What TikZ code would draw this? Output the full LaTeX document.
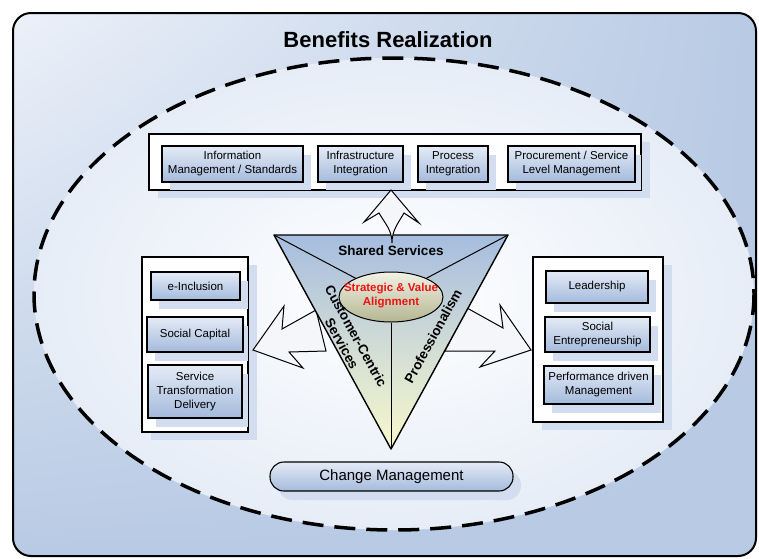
\documentclass[tikz,border=0pt]{standalone}
\usepackage{fontspec}
\setmainfont{Liberation Sans}
\usetikzlibrary{shadows,shapes.geometric,shadings}
\definecolor{bgLight}{RGB}{236,241,249}
\definecolor{bgBlue}{RGB}{184,202,228}
\definecolor{ellC}{RGB}{230,237,247}
\definecolor{boxTop}{RGB}{228,235,246}
\definecolor{boxBot}{RGB}{164,186,220}
\definecolor{shadowC}{RGB}{210,222,239}
\definecolor{triTop}{RGB}{166,189,223}
\definecolor{triBot}{RGB}{249,249,204}
\definecolor{svaTop}{RGB}{242,242,230}
\definecolor{svaBot}{RGB}{180,182,145}
\definecolor{arrowC}{RGB}{244,246,250}
\definecolor{svaRed}{RGB}{235,20,20}
\begin{document}
\begin{tikzpicture}[x=1pt,y=-1pt,
  ibox/.style={draw=black, line width=1.1pt, top color=boxTop, bottom color=boxBot,
    align=center, inner sep=0pt, font=\fontsize{11.5}{14}\selectfont,
    drop shadow={shadow xshift=8pt, shadow yshift=-9pt, fill=shadowC, opacity=1}},
  obox/.style={draw=black, line width=1.1pt, fill=white, inner sep=0pt,
    drop shadow={shadow xshift=9pt, shadow yshift=-8pt, fill=shadowC, opacity=1}},
  oborder/.style={draw=black, line width=1.1pt},
  barrow/.style={draw=black, line width=1pt, fill=arrowC, line join=miter},
  triText/.style={font=\bfseries\fontsize{13.5}{16}\selectfont, align=center, inner sep=0pt}
]
\path[use as bounding box] (0,0) rectangle (759,558);
% outer frame
\shadedraw[line width=2pt, rounded corners=18pt, upper left=bgLight, upper right=bgBlue,
  lower left=bgBlue, lower right=bgBlue] (13,13) rectangle (756,556);
\node[font=\bfseries\fontsize{22}{26}\selectfont, inner sep=0pt] (title) at (388,40) {Benefits Realization};
% dashed ellipse
\shadedraw[line width=3.5pt, dash pattern=on 21pt off 11pt, inner color=white, outer color=ellC]
  (394,294) ellipse [x radius=360, y radius=236];

% top group
\node[obox, minimum width=492pt, minimum height=56pt] (topbox) at (395,162) {};
\node[ibox, minimum width=141pt, minimum height=36pt] (im) at (232.5,164) {Information\\Management / Standards};
\node[ibox, minimum width=85pt, minimum height=36pt] (ii) at (360.5,164) {Infrastructure\\Integration};
\node[ibox, minimum width=70pt, minimum height=36pt] (pi) at (453,164) {Process\\Integration};
\node[ibox, minimum width=127pt, minimum height=36pt] (ps) at (571.5,164) {Procurement / Service\\Level Management};
\draw[oborder] (topbox.south west) rectangle (topbox.north east);

% left group
\node[obox, minimum width=106pt, minimum height=175pt] (leftbox) at (195,344.5) {};
\node[ibox, minimum width=89pt, minimum height=28pt] (ei) at (195.5,286) {e-Inclusion};
\node[ibox, minimum width=96pt, minimum height=35pt] (sc) at (195,334.5) {Social Capital};
\node[ibox, minimum width=94pt, minimum height=53pt] (std) at (195,391.5) {Service\\Transformation\\Delivery};
\draw[oborder] (leftbox.south west) rectangle (leftbox.north east);

% right group
\node[obox, minimum width=130pt, minimum height=165pt] (rightbox) at (598,339.5) {};
\node[ibox, minimum width=102pt, minimum height=32pt] (ld) at (597,287) {Leadership};
\node[ibox, minimum width=105pt, minimum height=35pt] (se) at (597.5,334.5) {Social\\Entrepreneurship};
\node[ibox, minimum width=109pt, minimum height=38pt] (pd) at (598.5,385) {Performance driven\\Management};
\draw[oborder] (rightbox.south west) rectangle (rightbox.north east);

% change management
\node[ibox, minimum width=243pt, minimum height=29pt, rounded corners=14pt,
  font=\fontsize{15}{18}\selectfont] (cm) at (391.5,476.5) {Change Management};

% side arrows
\draw[barrow] (253,350) -- (284,306) -- (282,329) -- (316,310) -- (326,351) -- (289,352) -- (303,368) -- cycle;
\draw[barrow] (531,350) -- (500,305) -- (503,328) -- (467,308) -- (445,351) -- (495,351) -- (480,367) -- cycle;

% triangle
\coordinate (tl) at (274,235);
\coordinate (tr) at (508,235);
\coordinate (tb) at (391,449);
\shadedraw[line width=1.4pt, top color=triTop, bottom color=triBot, line join=round] (tl) -- (tr) -- (tb) -- cycle;
\node[ellipse, draw=black, line width=1pt, top color=svaTop, bottom color=svaBot,
  minimum width=104pt, minimum height=50pt, inner sep=0pt] (sva) at (391,297) {};
\node[text=svaRed, font=\bfseries\fontsize{11.5}{14}\selectfont, align=center, inner sep=0pt]
  (svat) at (391,296) {Strategic \& Value\\Alignment};
\draw[line width=1pt] (tl) -- (sva);
\draw[line width=1pt] (tr) -- (sva);
\draw[line width=1pt] (sva.south) -- (tb);

% up arrow
\draw[barrow] (391,190) -- (364,222) -- (379,213) to[out=-60,in=90] (392,243) to[out=90,in=-120] (404,213) -- (419,223) -- cycle;

\node[triText] (shs) at (391,251) {Shared Services};
\node[triText, rotate=-61.3] (ccs) at (349,340) {Customer-Centric\\Services};
\node[triText, rotate=61.3] (prof) at (433,336) {Professionalism};
\end{tikzpicture}
\end{document}
